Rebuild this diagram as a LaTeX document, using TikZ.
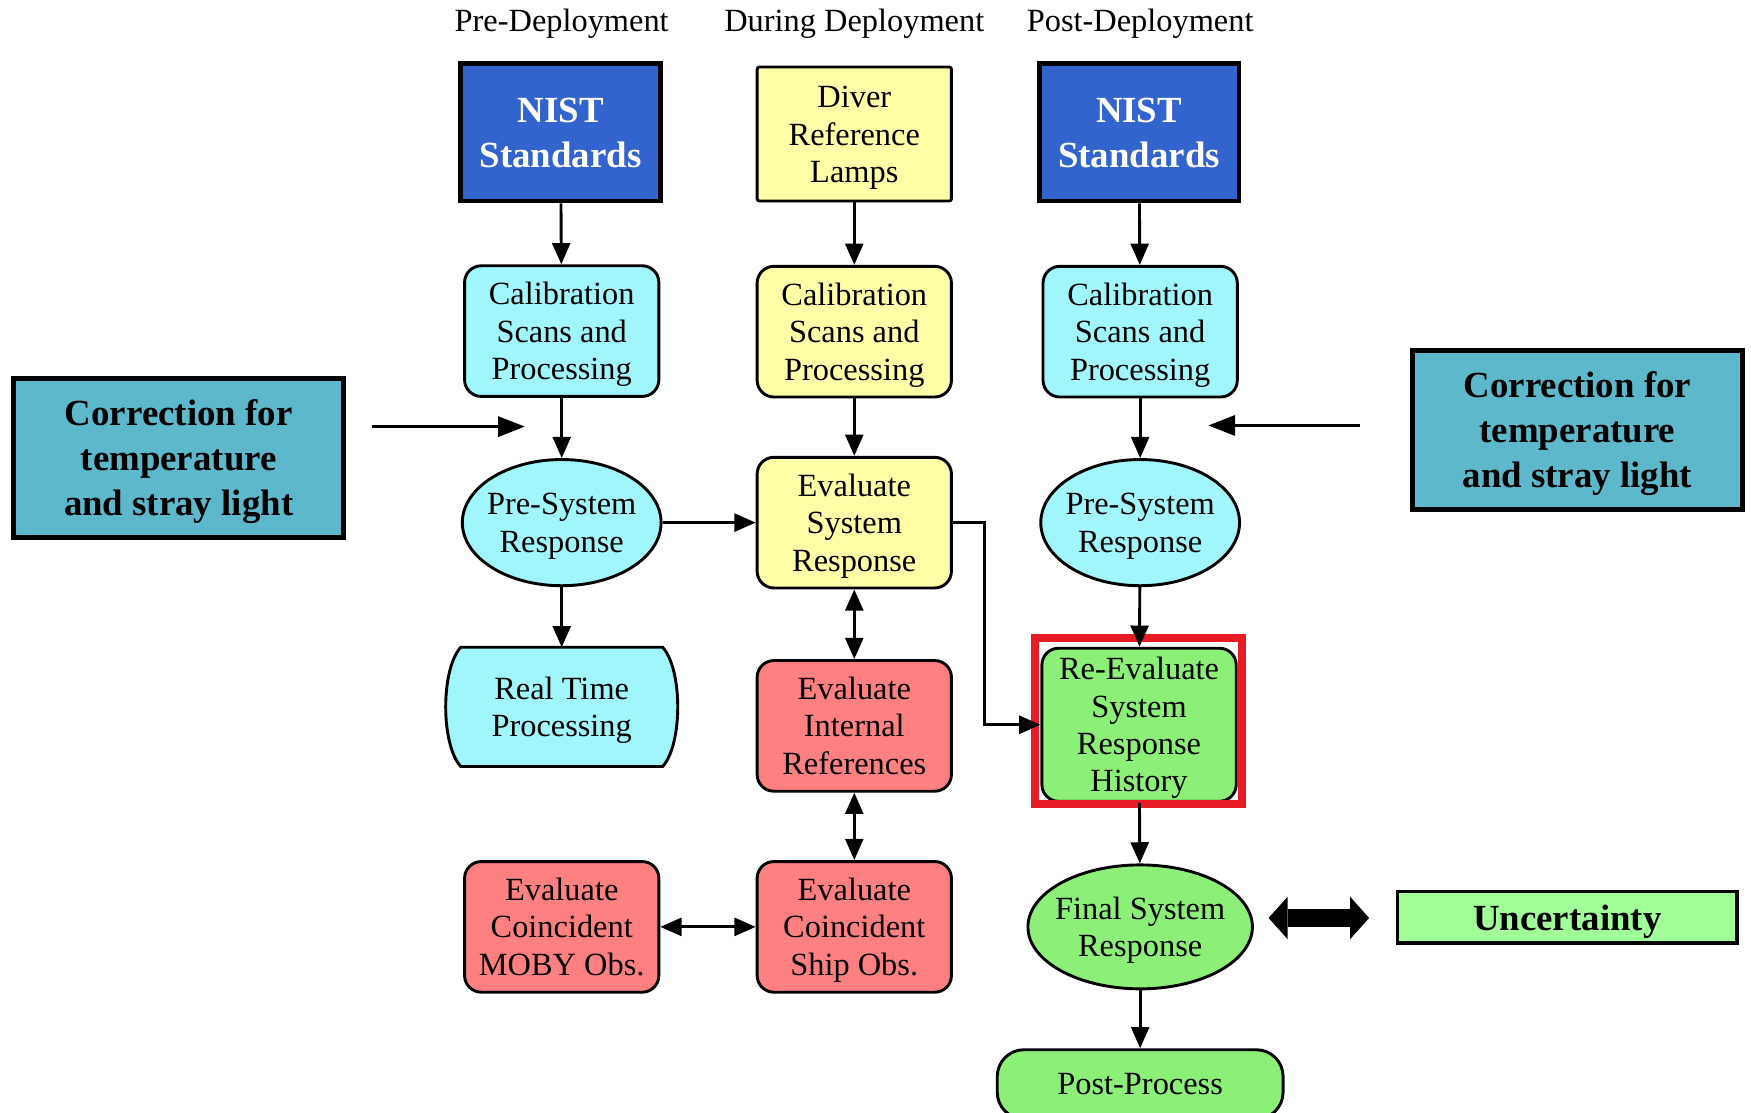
\documentclass[tikz,border=0pt]{standalone}
\usepackage{fontspec}
\setmainfont{Liberation Serif}
\usepackage{tikz}
\usetikzlibrary{arrows.meta,calc,positioning,shapes.geometric,backgrounds}

\definecolor{nistblue}{RGB}{51,99,204}
\definecolor{precyan}{RGB}{160,246,250}
\definecolor{duryellow}{RGB}{255,255,168}
\definecolor{evalred}{RGB}{255,128,128}
\definecolor{postgreen}{RGB}{140,240,120}
\definecolor{uncgreen}{RGB}{160,255,150}
\definecolor{corrteal}{RGB}{92,184,202}
\definecolor{framered}{RGB}{232,28,36}

% fixed line metrics, so descenders do not push the text up
\newcommand\rtext[1]{\rule{0pt}{13.1pt}#1\rule[-3.2pt]{0pt}{3.2pt}}
\newcommand\btext[1]{\rule{0pt}{14.9pt}#1\rule[-3.6pt]{0pt}{3.6pt}}

\begin{document}
\begin{tikzpicture}[x=0.5pt,y=-0.5pt,
    txt/.style={font=\fontsize{14.5}{16.75}\selectfont, align=center},
    boldtxt/.style={font=\fontsize{16.5}{20}\selectfont\bfseries, align=center},
    box/.style={txt, draw, line width=1.3pt, rounded corners=7.5pt, minimum width=87pt, minimum height=58.5pt, inner sep=1pt},
    ell/.style={txt, draw, line width=1.3pt, ellipse, inner xsep=-6pt, inner ysep=0pt, minimum width=89pt, minimum height=56.5pt},
    nist/.style={boldtxt, draw, line width=2.2pt, fill=nistblue, text=white, minimum width=89.5pt, minimum height=61.5pt},
    corr/.style={boldtxt, draw, line width=2.2pt, fill=corrteal, minimum width=148pt, minimum height=71pt},
    arr/.style={-{Triangle[length=9.5pt,width=8pt]}, line width=1.3pt},
    darr/.style={{Triangle[length=9.5pt,width=8pt]}-{Triangle[length=9.5pt,width=8pt]}, line width=1.3pt},
    carr/.style={-{Triangle[length=12pt,width=9pt]}, line width=1.3pt}]
    \useasboundingbox (0,0) rectangle (1568,996);

    % column headings
    \node[txt] (hPre) at (503,21) {Pre-Deployment};
    \node[txt] (hDur) at (765,21) {During Deployment};
    \node[txt] (hPost) at (1021,21) {Post-Deployment};

    % pre-deployment
    \node[nist] (nistL) at (502,118.5) {\btext{NIST\\Standards}};
    \node[box, fill=precyan] (calL) at (503,296.5) {\rtext{Calibration\\Scans and\\Processing}};
    \node[ell, fill=precyan] (psrL) at (503,468) {\rtext{Pre-System\\Response}};
    \node[txt, minimum width=90pt, minimum height=53pt, inner sep=0pt] (rt) at (503,633) {\rtext{Real Time\\Processing}};
    \begin{scope}[on background layer]
        \draw[line width=1.3pt, fill=precyan] (rt.north west) -- (rt.north east)
            .. controls +(18,20) and +(18,-20) .. (rt.south east) -- (rt.south west)
            .. controls +(-18,-20) and +(-18,20) .. (rt.north west) -- cycle;
    \end{scope}
    \node[box, fill=evalred] (moby) at (503,830) {\rtext{Evaluate\\Coincident\\MOBY Obs.}};

    % during deployment
    \node[box, rounded corners=1pt, fill=duryellow, minimum height=60pt] (diver) at (765,120) {\rtext{Diver\\Reference\\Lamps}};
    \node[box, fill=duryellow] (calM) at (765,297) {\rtext{Calibration\\Scans and\\Processing}};
    \node[box, fill=duryellow] (esr) at (765,468) {\rtext{Evaluate\\System\\Response}};
    \node[box, fill=evalred] (eir) at (765,650) {\rtext{Evaluate\\Internal\\References}};
    \node[box, fill=evalred] (ship) at (765,830) {\rtext{Evaluate\\Coincident\\Ship Obs.}};

    % post-deployment
    \node[nist] (nistR) at (1020,118.5) {\btext{NIST\\Standards}};
    \node[box, fill=precyan] (calR) at (1021,297) {\rtext{Calibration\\Scans and\\Processing}};
    \node[ell, fill=precyan] (psrR) at (1021,468) {\rtext{Pre-System\\Response}};
    \node[box, fill=postgreen, minimum height=67.5pt] (rer) at (1020,649) {\rtext{Re-Evaluate\\System\\Response\\History}};
    \node[draw=framered, line width=3.5pt, minimum width=92.75pt, minimum height=74.5pt] (hl) at (1019.75,645.5) {};
    \node[ell, fill=postgreen, minimum width=100.5pt, minimum height=55.5pt] (fsr) at (1021,830) {\rtext{Final System\\Response}};
    \node[box, fill=postgreen, rounded corners=12pt, minimum width=128pt, minimum height=31pt] (post) at (1021,971) {Post-Process};

    % side notes
    \node[corr] (corrL) at (160,410) {\btext{Correction for\\temperature\\and stray light}};
    \node[corr] (corrR) at (1412.5,385) {\btext{Correction for\\temperature\\and stray light}};
    \node[boldtxt, draw, line width=1.5pt, fill=uncgreen, minimum width=152pt, minimum height=23pt, inner sep=1pt] (unc) at (1403.5,821.5) {\btext{Uncertainty}};
    \coordinate (corrLfrom) at (333,382);
    \coordinate (corrLto) at (470,382);
    \coordinate (corrRfrom) at (1218,381);
    \coordinate (corrRto) at (1082,381);
    \coordinate (uncA) at (1136,822);
    \coordinate (uncB) at (1226,822);

    % connectors
    \draw[arr] (nistL) -- (calL);
    \draw[arr] (calL) -- (psrL);
    \draw[arr] (psrL) -- (rt);
    \draw[arr] (psrL) -- (esr);
    \draw[arr] (diver) -- (calM);
    \draw[arr] (calM) -- (esr);
    \draw[darr] (esr) -- (eir);
    \draw[darr] (eir) -- (ship);
    \draw[darr] (moby) -- (ship);
    \draw[arr] (esr.east) -- ++(28,0) |- (rer.west);
    \draw[arr] (nistR) -- (calR);
    \draw[arr] (calR) -- (psrR);
    \draw[arr] (psrR) -- (rer);
    \draw[arr] (rer) -- (fsr);
    \draw[arr] (fsr) -- (post);
    \draw[carr] (corrLfrom) -- (corrLto);
    \draw[carr] (corrRfrom) -- (corrRto);
    \draw[line width=8pt, {Triangle[length=8.5pt,width=19pt,line width=0pt]}-{Triangle[length=8.5pt,width=19pt,line width=0pt]}] (uncA) -- (uncB);
\end{tikzpicture}
\end{document}
